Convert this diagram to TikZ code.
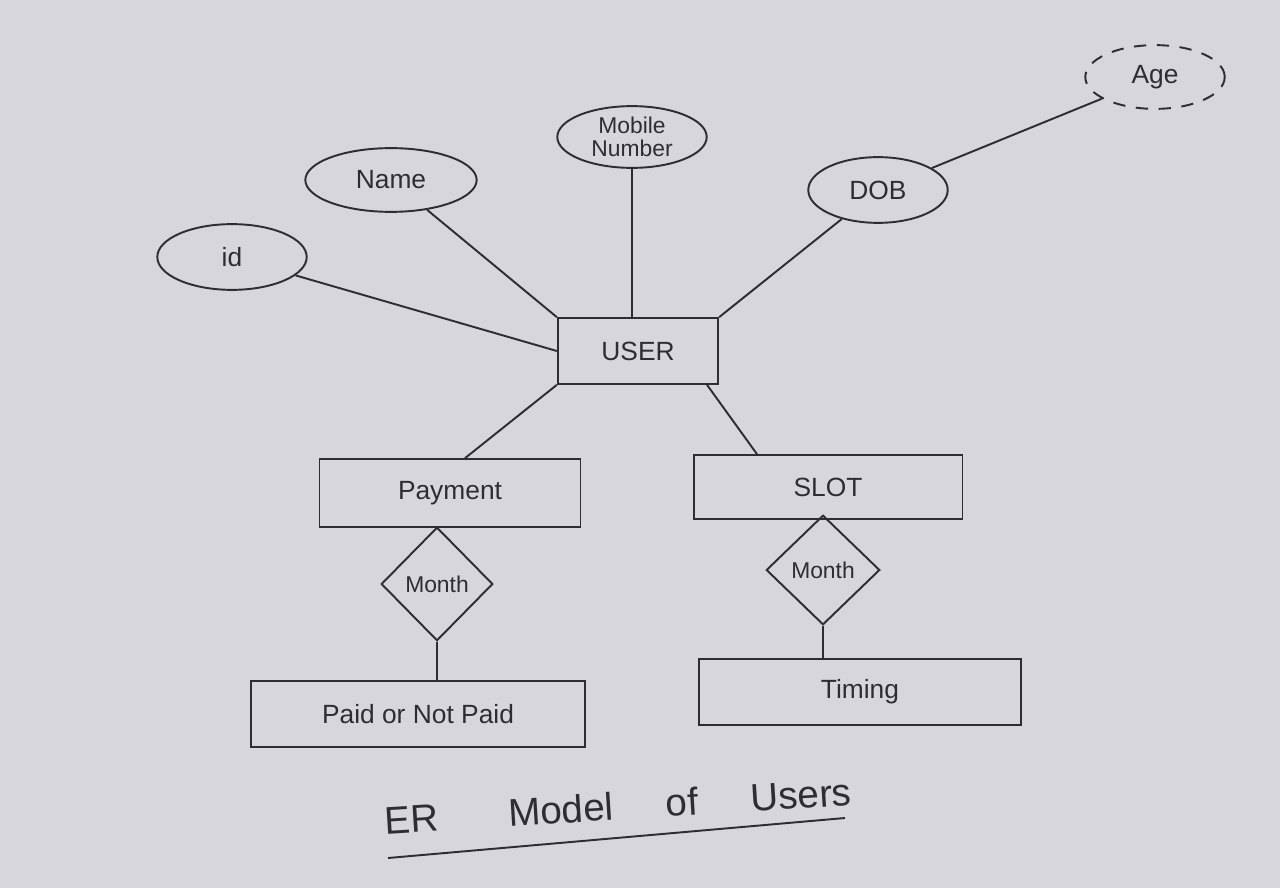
\documentclass[tikz,border=0pt]{standalone}
\usepackage{fontspec}
\setmainfont{Liberation Sans}
\usetikzlibrary{shapes.geometric,calc}
\definecolor{paper}{RGB}{214,214,220}
\definecolor{ink}{RGB}{45,45,50}
\tikzset{
  base/.style={draw=ink, line width=1.1pt, text=ink, font=\fontsize{15}{17}\selectfont, inner sep=0pt},
  attr/.style={base, ellipse},
  derived/.style={attr, dashed, dash pattern=on 7pt off 6pt},
  entity/.style={base, rectangle},
  rel/.style={base, diamond, aspect=1},
  conn/.style={draw=ink, line width=1.1pt},
  wd/.style={minimum width=#1*0.5669pt},
  ht/.style={minimum height=#1*0.5669pt},
}
\begin{document}
\begin{tikzpicture}[x=0.02cm, y=-0.02cm]
\fill[paper] (0,0) rectangle (1280,888);
\useasboundingbox (0,0) rectangle (1280,888);

% attributes
\node[attr, wd=150, ht=66] (id) at (232,257) {id};
\node[attr, wd=172, ht=64] (name) at (391,180) {Name};
\node[attr, wd=150, ht=62, align=center, font=\fontsize{13}{13}\selectfont] (mobile) at (632,137) {Mobile\\Number};
\node[attr, wd=140, ht=66] (dob) at (878,190) {DOB};
\node[derived, wd=140, ht=64] (age) at (1155,77) {Age};

% entities
\node[entity, wd=161, ht=66] (user) at (638,351) {USER};
\node[entity, wd=262, ht=68] (payment) at (450,493) {Payment};
\node[entity, wd=270, ht=64] (slot) at (828,487) {SLOT};
\node[entity, wd=336, ht=66] (paid) at (418,714) {Paid or Not Paid};
\node[entity, wd=324, ht=66] (timing) at (860,692) {Timing};

% relationships
\node[rel, wd=112, ht=114, font=\fontsize{13}{13}\selectfont] (month1) at (437,584) {Month};
\node[rel, wd=114, ht=110, font=\fontsize{13}{13}\selectfont] (month2) at (823,570) {Month};

% connectors
\draw[conn] (id) -- (user.west);
\draw[conn] (name) -- (user.north west);
\draw[conn] (mobile) -- (user.north -| mobile);
\draw[conn] (dob) -- (user.north east);
\draw[conn] (age) -- (dob);
\draw[conn] (user.south west) -- ($(payment.north)+(15,0)$);
\draw[conn] ($(user.south)+(69,0)$) -- ($(slot.north)+(-71,0)$);
\draw[conn] (month1.south) -- (paid.north -| month1.south);
\draw[conn] (month2.south) -- (timing.north -| month2.south);

% title
\node[text=ink, font=\fontsize{22}{24}\selectfont, rotate=3.5] (title) at (618,806) {ER\hspace{40pt}Model\hspace{30pt}of\hspace{30pt}Users};
\coordinate (ulA) at (388,858);
\coordinate (ulB) at (845,818);
\draw[conn] (ulA) -- (ulB);
\end{tikzpicture}
\end{document}
